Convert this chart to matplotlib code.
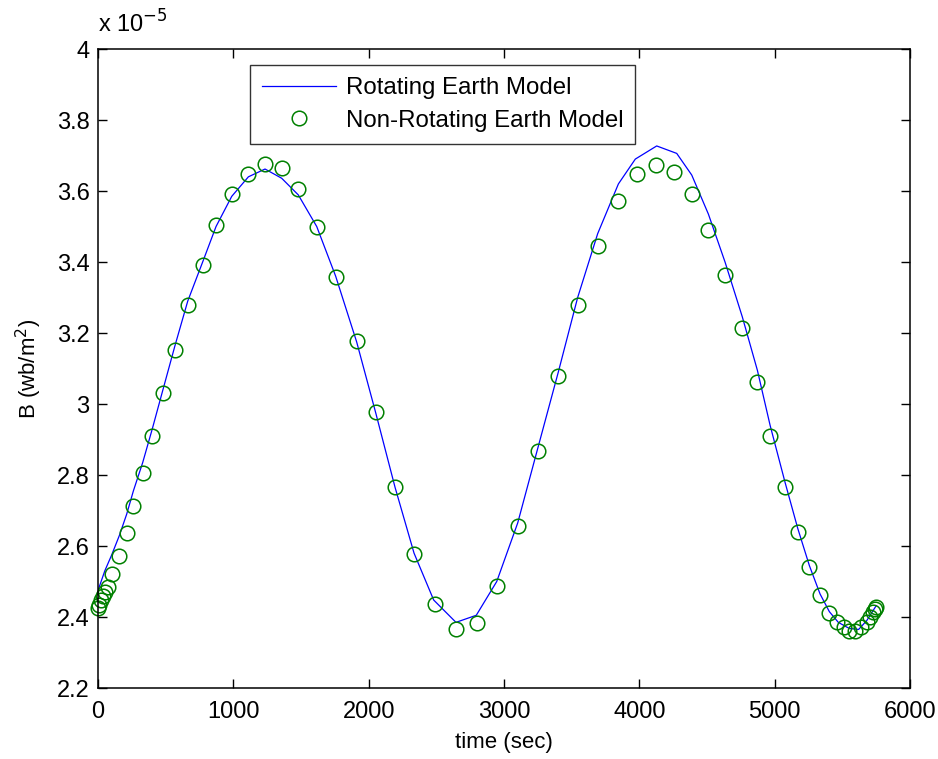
import numpy as np
import matplotlib
matplotlib.use("Agg")
from matplotlib import pyplot as plt
from matplotlib.ticker import FuncFormatter

# rotating earth model (blue line), B in units of 1e-5 wb/m^2
t_rot = [0, 50, 101, 158, 212, 261, 330, 401, 483, 569, 663, 778, 872, 988,
         1111, 1234, 1357, 1480, 1616, 1756, 1911, 2052, 2195, 2335, 2480,
         2645, 2795, 2946, 3101, 3249, 3401, 3544, 3692, 3845, 3970, 4128,
         4276, 4387, 4510, 4633, 4761, 4872, 4966, 5076, 5170, 5256, 5335,
         5404, 5470, 5550, 5620, 5680, 5750]
b_rot = [2.475, 2.53, 2.575, 2.63, 2.69, 2.755, 2.835, 2.93, 3.045, 3.165,
         3.29, 3.405, 3.50, 3.585, 3.64, 3.662, 3.636, 3.589, 3.50, 3.36,
         3.175, 2.975, 2.765, 2.58, 2.448, 2.385, 2.405, 2.50, 2.665, 2.875,
         3.09, 3.30, 3.48, 3.62, 3.69, 3.727, 3.706, 3.645, 3.535, 3.40,
         3.245, 3.095, 2.94, 2.78, 2.65, 2.545, 2.465, 2.415, 2.385, 2.368,
         2.365, 2.39, 2.432]

# non-rotating earth model (green circles)
t_non = [0, 8, 20, 35, 50, 75, 101, 158, 212, 261, 330, 401, 483, 569, 663,
         778, 872, 988, 1111, 1234, 1357, 1480, 1616, 1756, 1911, 2052, 2195,
         2335, 2490, 2645, 2798, 2946, 3101, 3249, 3401, 3544, 3692, 3845,
         3985, 4123, 4259, 4387, 4510, 4633, 4761, 4872, 4966, 5076, 5170,
         5256, 5335, 5404, 5462, 5510, 5550, 5595, 5640, 5680, 5705, 5725,
         5740, 5750]
b_non = [2.425, 2.435, 2.447, 2.458, 2.47, 2.485, 2.52, 2.573, 2.636, 2.714,
         2.805, 2.91, 3.03, 3.152, 3.279, 3.393, 3.504, 3.591, 3.648, 3.675,
         3.664, 3.605, 3.499, 3.359, 3.177, 2.978, 2.767, 2.577, 2.437, 2.366,
         2.382, 2.488, 2.656, 2.868, 3.079, 3.279, 3.446, 3.573, 3.648, 3.673,
         3.653, 3.591, 3.49, 3.363, 3.215, 3.063, 2.911, 2.767, 2.64, 2.54,
         2.462, 2.41, 2.385, 2.372, 2.362, 2.362, 2.372, 2.386, 2.40, 2.413,
         2.423, 2.428]

scale = 1e-5
t_rot = np.array(t_rot)
b_rot = np.array(b_rot) * scale
t_non = np.array(t_non)
b_non = np.array(b_non) * scale

plt.rcParams['font.family'] = ['Liberation Sans', 'DejaVu Sans']

fig = plt.figure(figsize=(9.38, 7.59), dpi=100)
ax = fig.add_axes([0.1045, 0.0935, 0.8657, 0.8419])

ax.plot(t_rot, b_rot, color=(0, 0, 1), linewidth=0.9, label='Rotating Earth Model')
ax.plot(t_non, b_non, 'o', markerfacecolor='none', markeredgecolor=(0, 0.5, 0),
        markeredgewidth=1.1, markersize=10.5, linestyle='none',
        label='Non-Rotating Earth Model', clip_on=False)

ax.set_xlim(0, 6000)
ax.set_ylim(2.2e-5, 4.0e-5)
ax.set_xticks(np.arange(0, 6001, 1000))
ax.set_yticks(np.arange(2.2, 4.01, 0.2) * scale)
ax.yaxis.set_major_formatter(FuncFormatter(lambda v, _: '%g' % round(v / scale, 2)))

ax.tick_params(direction='in', length=6.5, width=1, top=True, right=True,
               labelsize=17)
ax.tick_params(axis='x', pad=9)
ax.tick_params(axis='y', pad=6)
for s in ax.spines.values():
    s.set_linewidth(1.1)

ax.set_xlabel('time (sec)', fontsize=16, labelpad=7)
ax.set_ylabel('B (wb/m$^2$)', fontsize=16, labelpad=9)
ax.text(0.0, 1.018, r'x 10$^{-5}$', transform=ax.transAxes, fontsize=17,
        ha='left', va='bottom')

leg = ax.legend(loc='upper left', bbox_to_anchor=(0.187, 0.975), fontsize=17.3,
                frameon=True, fancybox=False, edgecolor='black',
                handlelength=3.1, handletextpad=0.38, borderpad=0.5,
                labelspacing=0.45, borderaxespad=0, numpoints=1)
leg.get_frame().set_linewidth(1.0)

fig.savefig('out.png', dpi=100)
